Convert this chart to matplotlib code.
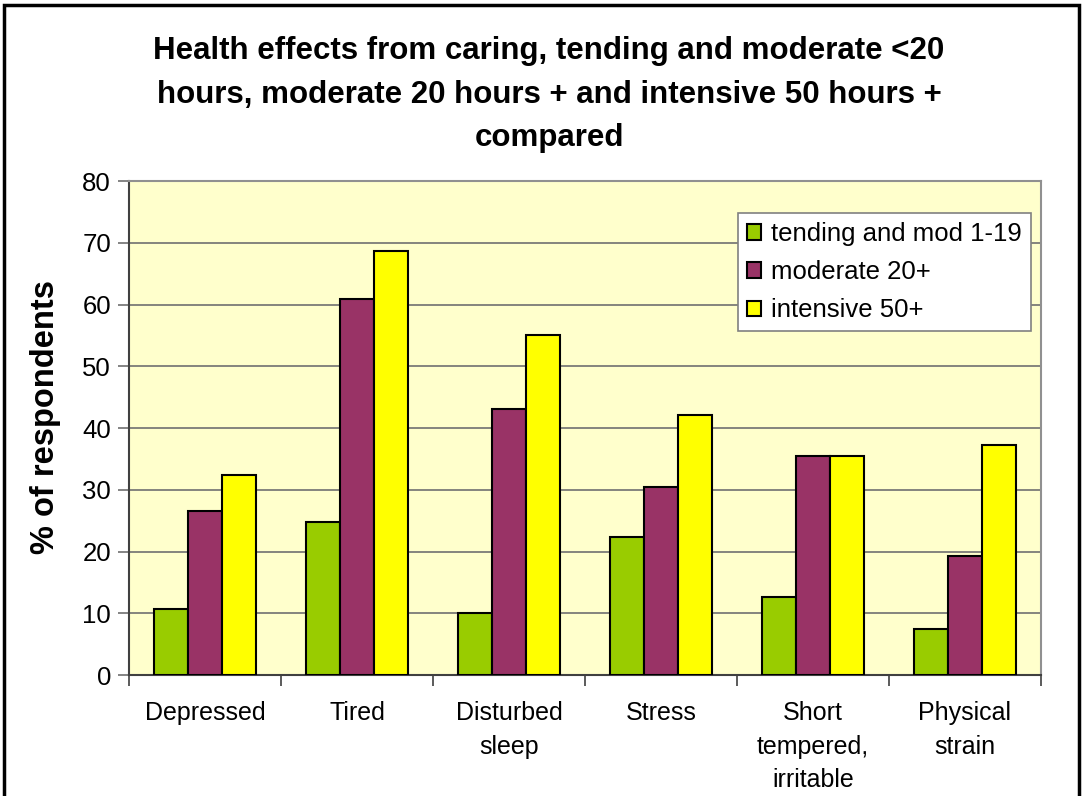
import numpy as np
import matplotlib
matplotlib.use("Agg")
import matplotlib.pyplot as plt
from matplotlib.patches import Rectangle

plt.rcParams['font.family'] = ['Liberation Sans', 'DejaVu Sans']

categories = ["Depressed", "Tired", "Disturbed\nsleep", "Stress",
              "Short\ntempered,\nirritable", "Physical\nstrain"]
series_names = ["tending and mod 1-19", "moderate 20+", "intensive 50+"]
tending = [10.7, 24.7, 10.0, 22.3, 12.7, 7.4]
moderate = [26.6, 60.9, 43.1, 30.5, 35.4, 19.2]
intensive = [32.4, 68.7, 55.1, 42.1, 35.4, 37.2]
colors = ["#99CC00", "#993366", "#FFFF00"]

fig = plt.figure(figsize=(10.83, 7.96), dpi=100)
ax = fig.add_axes([0.1191, 0.152, 0.8421, 0.6206])
ax.set_facecolor("#FFFFCC")

x = np.arange(len(categories))
w = 0.224
for i, (vals, name) in enumerate(zip([tending, moderate, intensive], series_names)):
    ax.bar(x + (i - 1) * w, vals, w, color=colors[i], edgecolor="black",
           linewidth=1.5, label=name, zorder=3)

ax.set_xlim(-0.5, len(categories) - 0.5)
ax.set_ylim(0, 80)
ax.set_yticks(range(0, 81, 10))
ax.yaxis.grid(True, color="#707070", linewidth=1.2, zorder=0)
ax.set_xticks(np.arange(-0.5, len(categories), 1.0))
ax.set_xticklabels([])
ax.set_xticks(x, minor=True)
ax.set_xticklabels(categories, minor=True, fontsize=18, linespacing=1.5)
ax.tick_params(axis="x", which="minor", length=0, pad=19)
ax.tick_params(axis="x", which="major", length=8, width=1.2, color="#404040", direction="out")
ax.tick_params(axis="y", length=8, width=1.2, color="#707070", labelsize=18.5, pad=5)
for s in ["top", "right"]:
    ax.spines[s].set_color("#909090")
    ax.spines[s].set_linewidth(1.5)
ax.spines["left"].set_color("#404040")
ax.spines["bottom"].set_color("#404040")
ax.spines["left"].set_linewidth(1.5)
ax.spines["bottom"].set_linewidth(1.5)

ax.set_ylabel("% of respondents", fontsize=23.5, fontweight="bold")
ax.yaxis.set_label_coords(-0.074, 0.522)

leg = ax.legend(loc="upper right", bbox_to_anchor=(0.989, 0.935), fontsize=18.5,
                frameon=True, fancybox=False, edgecolor="#808080", framealpha=1,
                handlelength=0.55, handleheight=0.55, handletextpad=0.4,
                labelspacing=0.55, borderpad=0.35, borderaxespad=0)
leg.get_frame().set_linewidth(1.2)

fig.text(0.507, 0.955, "Health effects from caring, tending and moderate <20\n"
         "hours, moderate 20 hours + and intensive 50 hours +\ncompared",
         ha="center", va="top", fontsize=22.5, fontweight="bold", linespacing=1.6)

fig.patches.append(Rectangle((0.004, -0.05), 0.992, 1.044, transform=fig.transFigure,
                             fill=False, edgecolor="black", linewidth=2.5))

fig.savefig("out.png", dpi=100)
